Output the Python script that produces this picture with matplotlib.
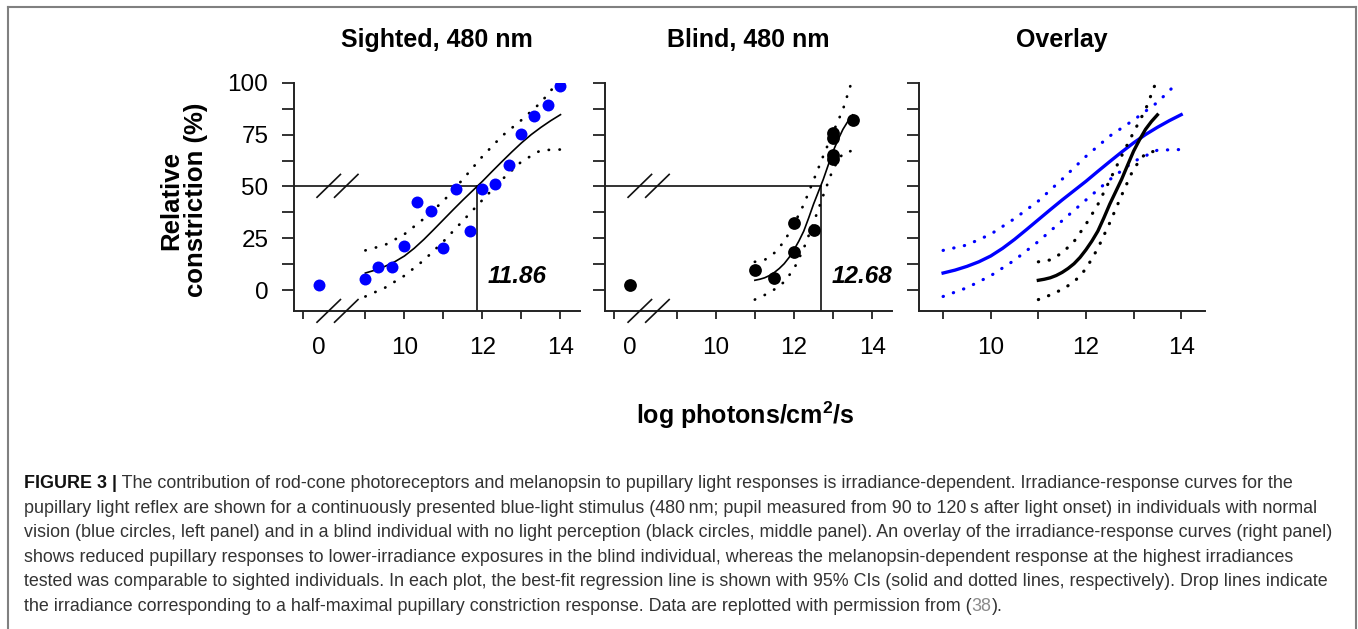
import matplotlib
matplotlib.use("Agg")
import matplotlib.pyplot as plt
from matplotlib import font_manager
from matplotlib.lines import Line2D

W, H = 1358, 629

# valeurs (x = log photons/cm2/s, y = constriction relative %)
sighted_x = [0, 9.0, 9.33, 9.67, 10.0, 10.33, 10.67, 11.0, 11.33, 11.67, 12.0, 12.33, 12.67, 13.0, 13.33, 13.67, 14.0]
sighted_y = [2.4, 5.6, 11.1, 11.1, 21.5, 42.4, 38.4, 20.4, 49.0, 28.7, 48.9, 51.2, 60.2, 75.4, 84.1, 89.1, 98.6]
blind_x = [0, 11.0, 11.5, 12.0, 12.0, 12.5, 13.0, 13.0, 13.0, 13.0, 13.5]
blind_y = [2.3, 9.6, 6.0, 32.4, 18.5, 28.9, 75.8, 73.4, 65.0, 63.2, 82.2]

sighted_fit_x = [9.0, 9.25, 9.5, 9.75, 10.0, 10.25, 10.5, 10.75, 11.0, 11.25, 11.5,
                 11.75, 12.0, 12.25, 12.5, 12.75, 13.0, 13.25, 13.5, 13.75, 14.0]
sighted_fit_y = [8.3, 9.7, 11.5, 13.7, 16.5, 20.2, 24.5, 29.2, 34.0, 38.8, 43.5,
                 48.0, 52.5, 57.3, 62.0, 66.6, 71.0, 75.0, 78.5, 81.7, 84.6]
sighted_lo_x = [9.0, 9.5, 10.0, 10.5, 11.0, 11.5, 12.0, 12.5, 13.0, 13.5, 14.0]
sighted_lo_y = [-3.0, 1.2, 7.0, 14.5, 23.5, 33.5, 43.5, 53.3, 62.0, 67.5, 67.8]
sighted_hi_x = [9.0, 9.5, 10.0, 10.5, 11.0, 11.5, 12.0, 12.5, 13.0, 13.5, 13.9]
sighted_hi_y = [19.2, 21.8, 27.0, 34.5, 43.0, 53.5, 64.5, 74.3, 82.0, 90.5, 99.5]

blind_fit_x = [11.0, 11.125, 11.25, 11.375, 11.5, 11.625, 11.75, 11.875, 12.0, 12.125, 12.25,
               12.375, 12.5, 12.625, 12.75, 12.875, 13.0, 13.125, 13.25, 13.375, 13.5]
blind_fit_y = [4.8, 5.3, 6.0, 7.1, 8.6, 10.5, 12.8, 15.8, 19.5, 23.7, 28.5,
               34.8, 41.5, 47.5, 53.5, 60.3, 67.0, 72.5, 77.5, 81.3, 84.5]
blind_lo_x = [11.0, 11.25, 11.5, 11.75, 12.0, 12.25, 12.5, 12.75, 13.0, 13.25, 13.5]
blind_lo_y = [-4.5, -2.3, 0.4, 4.0, 10.3, 20.2, 32.5, 45.8, 58.5, 66.0, 67.3]
blind_hi_x = [11.0, 11.25, 11.5, 11.75, 12.0, 12.25, 12.5, 12.75, 13.0, 13.25, 13.45]
blind_hi_y = [13.7, 14.6, 18.0, 23.5, 31.8, 41.3, 53.0, 64.8, 76.1, 87.0, 99.0]

ec50 = [11.86, 12.68]
titres = ["Sighted, 480 nm", "Blind, 480 nm", "Overlay"]

caption = [
    "The contribution of rod-cone photoreceptors and melanopsin to pupillary light responses is irradiance-dependent. Irradiance-response curves for the",
    "pupillary light reflex are shown for a continuously presented blue-light stimulus (480\u2009nm; pupil measured from 90 to 120\u2009s after light onset) in individuals with normal",
    "vision (blue circles, left panel) and in a blind individual with no light perception (black circles, middle panel). An overlay of the irradiance-response curves (right panel)",
    "shows reduced pupillary responses to lower-irradiance exposures in the blind individual, whereas the melanopsin-dependent response at the highest irradiances",
    "tested was comparable to sighted individuals. In each plot, the best-fit regression line is shown with 95% CIs (solid and dotted lines, respectively). Drop lines indicate",
    "the irradiance corresponding to a half-maximal pupillary constriction response. Data are replotted with permission from (",
]

plt.rcParams['font.family'] = ['Liberation Sans', 'DejaVu Sans']
plt.rcParams['mathtext.fontset'] = 'custom'
plt.rcParams['mathtext.rm'] = 'Liberation Sans'
plt.rcParams['mathtext.bf'] = 'Liberation Sans:bold'

BLEU = '#0000ff'
ZERO_POS = 7.8  # position du point "0" avant la coupure de l'axe
YLIM = (-10, 100)

fig = plt.figure(figsize=(W / 100, H / 100), dpi=100)


def fx(px):
    return px / W


def fy(py):
    return 1 - py / H


def axes_px(x0, x1, y0=82.7, y1=311):
    return fig.add_axes([fx(x0), fy(y1), fx(x1) - fx(x0), fy(y0) - fy(y1)])


def style_axes(ax, xlim, coupure, labels_y):
    ax.set_xlim(*xlim)
    ax.set_ylim(*YLIM)
    for s in ['top', 'right']:
        ax.spines[s].set_visible(False)
    for s in ['left', 'bottom']:
        ax.spines[s].set_linewidth(1.4)
        ax.spines[s].set_color('#222222')
    ax.set_yticks([0, 25, 50, 75, 100])
    ax.set_yticks([12.5, 37.5, 62.5, 87.5], minor=True)
    if labels_y:
        ax.set_yticklabels(["0", "25", "50", "75", "100"])
    else:
        ax.set_yticklabels([])
    if coupure:
        ax.set_xticks([7.4, 9, 10, 11, 12, 13, 14], ["", "", "10", "", "12", "", "14"])
        ax.set_xticks([ZERO_POS], ["0"], minor=True)
        ax.tick_params(axis='x', which='minor', length=0, pad=19)
    else:
        ax.set_xticks([9, 10, 11, 12, 13, 14], ["", "10", "", "12", "", "14"])
    ax.tick_params(axis='y', which='both', length=8.5, width=1.3, pad=10, labelsize=17.5, color='#222222')
    ax.tick_params(axis='x', which='major', length=6, width=1.3, pad=13, labelsize=17.5, color='#222222')
    ax.tick_params(axis='x', which='minor', labelsize=17.5)


def marque_coupure(ax):
    # double barre "//" sur la ligne 50 et sur l'axe x
    for y0, y1 in [(44.8, 55.8), (-15.4, -4.5)]:
        for x0 in (7.76, 8.21):
            ax.plot([x0, x0 + 0.6], [y0, y1], color='#111111', lw=1.2, clip_on=False, zorder=4)


def place_zero(xs):
    return [ZERO_POS if v == 0 else v for v in xs]


POINTILLE = dict(lw=2.0, ls=(0, (0.1, 3.8)), dash_capstyle='round')
POINTILLE_GROS = dict(lw=2.3, ls=(0, (0.1, 3.3)), dash_capstyle='round')

ax1 = axes_px(294, 580)
ax2 = axes_px(605, 891.8)
ax3 = axes_px(919.3, 1205)

panneaux = [
    (ax1, sighted_x, sighted_y, BLEU, sighted_fit_x, sighted_fit_y, sighted_lo_x, sighted_lo_y, sighted_hi_x, sighted_hi_y, ec50[0], 8.6),
    (ax2, blind_x, blind_y, 'black', blind_fit_x, blind_fit_y, blind_lo_x, blind_lo_y, blind_hi_x, blind_hi_y, ec50[1], 9.2),
]

for i, (ax, px_, py_, coul, fx_, fy_, lx, ly, hx, hy, ec, ms) in enumerate(panneaux):
    style_axes(ax, (7.17, 14.5), True, i == 0)
    ax.plot(fx_, fy_, color='black', lw=1.2, zorder=3)
    ax.plot(lx, ly, color='black', **POINTILLE, zorder=3)
    ax.plot(hx, hy, color='black', **POINTILLE, zorder=3)
    ax.plot(place_zero(px_), py_, 'o', color=coul, ms=ms, mec='none', zorder=5)
    ax.plot([7.17, ec], [50, 50], color='#111111', lw=1.2, zorder=2)
    ax.plot([ec, ec], [YLIM[0], 50], color='#111111', lw=1.2, zorder=2)
    ax.text(ec + 0.27, 6.6, f"{ec:.2f}", fontsize=17.5, weight='bold', style='italic',
            ha='left', va='center')
    marque_coupure(ax)
    ax.set_title(titres[i], fontsize=18, weight='bold', pad=26)

style_axes(ax3, (8.5, 14.5), False, False)
ax3.plot(sighted_fit_x, sighted_fit_y, color=BLEU, lw=2.4)
ax3.plot(sighted_lo_x, sighted_lo_y, color=BLEU, **POINTILLE_GROS)
ax3.plot(sighted_hi_x, sighted_hi_y, color=BLEU, **POINTILLE_GROS)
ax3.plot(blind_fit_x, blind_fit_y, color='black', lw=2.4)
ax3.plot(blind_lo_x, blind_lo_y, color='black', **POINTILLE_GROS)
ax3.plot(blind_hi_x, blind_hi_y, color='black', **POINTILLE_GROS)
ax3.set_title(titres[2], fontsize=18, weight='bold', pad=26)

# titres des axes
fig.text(fx(184), fy(200), "Relative\nconstriction (%)", rotation=90, ha='center', va='center',
         fontsize=18.5, weight='bold', linespacing=1.05)
fig.text(fx(745), fy(424), r"log photons/cm$^\mathbf{2}$/s", ha='center', va='baseline',
         fontsize=18, weight='bold')

# cadre de la légende
for xs, ys in [([7.5, 7.5], [700, 6.5]), ([7.5, 1355.5], [6.5, 6.5]), ([1355.5, 1355.5], [6.5, 700])]:
    fig.add_artist(Line2D([fx(v) for v in xs], [fy(v) for v in ys], color='#808080', lw=1.5))

# légende de la figure, ajustée sur la largeur de la 2e ligne
renderer = fig.canvas.get_renderer()
noms = {f.name for f in font_manager.fontManager.ttflist}
cap_font = ['Liberation Sans Narrow'] if 'Liberation Sans Narrow' in noms else ['Liberation Sans']
cap_font = cap_font + ['DejaVu Sans']
sonde = fig.text(0, 0, caption[1], fontsize=10, family=cap_font)
taille = 10 * 1294 / sonde.get_window_extent(renderer).width
sonde.remove()


def ligne(segments, x, base):
    for texte, props in segments:
        t = fig.text(fx(x), fy(base), texte, fontsize=taille, family=cap_font, va='baseline', **props)
        x += t.get_window_extent(renderer).width


GRIS = dict(color='#333333')
bases = [488, 513, 537, 562, 586, 611]
ligne([("FIGURE 3 |", dict(color='#111111', weight='bold')), (" " + caption[0], GRIS)], 24, bases[0])
for k in range(1, 5):
    ligne([(caption[k], GRIS)], 24, bases[k])
ligne([(caption[5], GRIS), ("38", dict(color='#8a8a8a')), (").", GRIS)], 24, bases[5])

fig.savefig("out.png", dpi=100)
